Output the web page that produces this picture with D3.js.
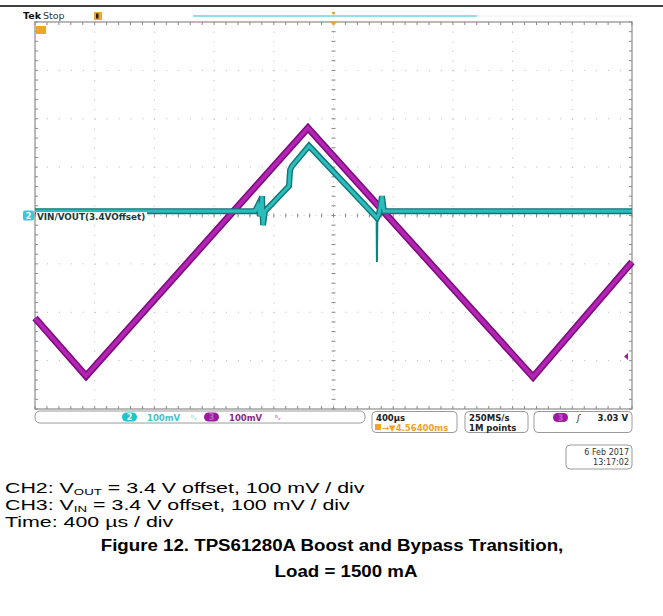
<!DOCTYPE html>
<html>
<head>
<meta charset="utf-8">
<script src="https://cdn.jsdelivr.net/npm/d3@7"></script>
<style>
body{margin:0;background:#fff;}
svg text{font-family:"DejaVu Sans",sans-serif;}
svg text.cap{font-family:"Liberation Sans",Arial,sans-serif;}
</style>
</head>
<body>
<div id="chart"></div>
<script>
// scope capture: time in us (trigger at 0), level in mV around the 3.4 V offset
// CH3 = VIN (magenta)
var ch3Time=[-2000,-1658,-171,1337,2000];
var ch3Level=[-212,-332,181,-334,-96];
// CH2 = VOUT (cyan)
var ch2Time=[-2000,-526,-506,-492,-479,-472,-459,-298,-291,-278,-164,291,305,325,338,2000];
var ch2Level=[9,9,21,-1,40,-20,9,61,94,102,144,-5,3,40,9,9];
// thin glitch at the bypass -> boost transition
var spikeTime=[289,291,294];
var spikeLevel=[-5,-96,0];

var timeDiv=400, levelDiv=100;
var xDivs=[-5,-4,-3,-2,-1,0,1,2,3,4,5];
var yDivs=[-4,-3,-2,-1,0,1,2,3,4];

var statusLabels=["100mV","100mV"];
var horizLabels=["400µs","4.56400ms"];
var acqLabels=["250MS/s","1M points"];
var trigLabel="3.03 V";
var dateLabels=["6 Feb  2017","13:17:02"];

var W=663,H=616;
var svg=d3.select("#chart").append("svg").attr("width",W).attr("height",H);

var x=d3.scaleLinear().domain([-5*timeDiv,5*timeDiv]).range([35,632]);
var y=d3.scaleLinear().domain([-4*levelDiv,4*levelDiv]).range([409,22]);

// page rule at top
svg.append("line").attr("x1",0).attr("x2",W).attr("y1",6).attr("y2",6)
    .attr("stroke","#000").attr("stroke-width",1.5);

// graticule
var grid=svg.append("g");
var minorX=(x(timeDiv)-x(0))/5, minorY=(y(0)-y(levelDiv))/5;
xDivs.slice(1,-1).forEach(function(d){
    if(d===0) return;
    grid.append("line").attr("x1",x(d*timeDiv)).attr("x2",x(d*timeDiv))
        .attr("y1",y(400)).attr("y2",y(-400))
        .attr("stroke","#b8b8b8").attr("stroke-dasharray","1,"+(minorY-1));
});
yDivs.slice(1,-1).forEach(function(d){
    if(d===0) return;
    grid.append("line").attr("x1",x(-2000)).attr("x2",x(2000))
        .attr("y1",y(d*levelDiv)).attr("y2",y(d*levelDiv))
        .attr("stroke","#b8b8b8").attr("stroke-dasharray","1,"+(minorX-1));
});
// center cross with minor ticks
grid.append("line").attr("x1",x(0)).attr("x2",x(0)).attr("y1",y(400)).attr("y2",y(-400))
    .attr("stroke","#c8c8c8").attr("stroke-dasharray","1,"+(minorY/2-1));
grid.append("line").attr("x1",x(-2000)).attr("x2",x(2000)).attr("y1",y(0)).attr("y2",y(0))
    .attr("stroke","#c8c8c8").attr("stroke-dasharray","1,"+(minorX/2-1));
var tX=d3.range(-2000,2001,timeDiv/5), tY=d3.range(-400,401,levelDiv/5);
grid.selectAll(".tx").data(tX).enter().append("line")
    .attr("x1",function(d){return x(d);}).attr("x2",function(d){return x(d);})
    .attr("y1",y(0)-2).attr("y2",y(0)+2).attr("stroke","#888");
grid.selectAll(".ty").data(tY).enter().append("line")
    .attr("y1",function(d){return y(d);}).attr("y2",function(d){return y(d);})
    .attr("x1",x(0)-2).attr("x2",x(0)+2).attr("stroke","#888");
// border ticks
grid.selectAll(".bt").data(tX).enter().append("line")
    .attr("x1",function(d){return x(d);}).attr("x2",function(d){return x(d);})
    .attr("y1",y(400)).attr("y2",y(400)+3).attr("stroke","#888");
grid.selectAll(".bb").data(tX).enter().append("line")
    .attr("x1",function(d){return x(d);}).attr("x2",function(d){return x(d);})
    .attr("y1",y(-400)).attr("y2",y(-400)-3).attr("stroke","#888");
grid.selectAll(".bl").data(tY).enter().append("line")
    .attr("y1",function(d){return y(d);}).attr("y2",function(d){return y(d);})
    .attr("x1",x(-2000)).attr("x2",x(-2000)+3).attr("stroke","#888");
grid.selectAll(".br").data(tY).enter().append("line")
    .attr("y1",function(d){return y(d);}).attr("y2",function(d){return y(d);})
    .attr("x1",x(2000)).attr("x2",x(2000)-3).attr("stroke","#888");
grid.append("rect").attr("x",x(-2000)).attr("y",y(400))
    .attr("width",x(2000)-x(-2000)).attr("height",y(-400)-y(400))
    .attr("fill","none").attr("stroke","#8c8c8c").attr("stroke-width",1.2);

// traces
var line=d3.line().x(function(d){return x(d[0]);}).y(function(d){return y(d[1]);});
var ch3=d3.zip(ch3Time,ch3Level), ch2=d3.zip(ch2Time,ch2Level), spike=d3.zip(spikeTime,spikeLevel);

svg.append("path").attr("d",line(ch3)).attr("fill","none")
    .attr("stroke","#7d0a7d").attr("stroke-width",7).attr("stroke-linejoin","miter");
svg.append("path").attr("d",line(ch3)).attr("fill","none")
    .attr("stroke","#b224b2").attr("stroke-width",4).attr("stroke-linejoin","miter");

svg.append("path").attr("d",line(spike)).attr("fill","none")
    .attr("stroke","#138080").attr("stroke-width",2);
svg.append("path").attr("d",line(ch2)).attr("fill","none")
    .attr("stroke","#0f7676").attr("stroke-width",6).attr("stroke-linejoin","miter");
svg.append("path").attr("d",line(ch2)).attr("fill","none")
    .attr("stroke","#2dbcbc").attr("stroke-width",3.2).attr("stroke-linejoin","miter");

// channel label on the left
svg.append("rect").attr("x",36).attr("y",y(9)+1).attr("width",111).attr("height",8).attr("fill","#fff");
svg.append("rect").attr("x",23).attr("y",y(0)-5).attr("width",11).attr("height",10).attr("rx",2).attr("fill","#3cc8d8");
svg.append("text").attr("x",28.5).attr("y",y(0)+3.5).attr("text-anchor","middle")
    .attr("font-size",8).attr("fill","#fff").attr("font-weight","bold").text("2");
svg.append("text").attr("x",37).attr("y",y(9)+9).attr("font-size",8.8).attr("font-weight","bold")
    .attr("fill","#163c3c").text("VIN/VOUT(3.4VOffset)");

// top status
svg.append("text").attr("x",23).attr("y",19).attr("font-size",9.5).attr("font-weight","bold").attr("fill","#111").text("Tek");
svg.append("text").attr("x",43).attr("y",19).attr("font-size",9.5).attr("fill","#333").text("Stop");
svg.append("rect").attr("x",94).attr("y",12).attr("width",8).attr("height",8).attr("fill","#f0a428");
svg.append("rect").attr("x",96).attr("y",13.5).attr("width",2.5).attr("height",5).attr("fill","#222");
svg.append("rect").attr("x",36).attr("y",26).attr("width",10).attr("height",8).attr("fill","#f0a428");
svg.append("line").attr("x1",193).attr("x2",477).attr("y1",16).attr("y2",16).attr("stroke","#95dbe8").attr("stroke-width",2);
svg.append("line").attr("x1",477).attr("x2",632).attr("y1",16).attr("y2",16).attr("stroke","#eeeeee").attr("stroke-width",1);
svg.append("circle").attr("cx",x(0)).attr("cy",13).attr("r",1.6).attr("fill","#f0a428");
svg.append("path").attr("d","M"+(x(0)-4)+",21L"+(x(0)+4)+",21L"+x(0)+",26Z").attr("fill","#f0a428");
// trigger level marker on the right
svg.append("path").attr("d","M628,353L624,356.5L628,360Z").attr("fill","#a020a0");

// bottom status bar
var bar=svg.append("g");
bar.append("rect").attr("x",35).attr("y",411).attr("width",330).attr("height",12).attr("rx",5)
    .attr("fill","#fff").attr("stroke","#9a9a9a");
bar.append("rect").attr("x",122).attr("y",412.5).attr("width",15).attr("height",9).attr("rx",4.5).attr("fill","#1fc4cc");
bar.append("text").attr("x",129.5).attr("y",420).attr("text-anchor","middle").attr("font-size",8).attr("font-weight","bold").attr("fill","#fff").text("2");
bar.append("text").attr("x",147).attr("y",420.5).attr("font-size",8.5).attr("font-weight","bold").attr("fill","#3cc4cc").text(statusLabels[0]);
bar.append("text").attr("x",191).attr("y",420).attr("font-size",7).attr("fill","#3cc4cc").text("ᵇᵥ");
bar.append("rect").attr("x",204).attr("y",412.5).attr("width",15).attr("height",9).attr("rx",4.5).attr("fill","#9c1aa0");
bar.append("text").attr("x",211.5).attr("y",420).attr("text-anchor","middle").attr("font-size",8).attr("font-weight","bold").attr("fill","#c060c0").text("3");
bar.append("text").attr("x",229).attr("y",420.5).attr("font-size",8.5).attr("font-weight","bold").attr("fill","#8a2a8a").text(statusLabels[1]);
bar.append("text").attr("x",275).attr("y",420).attr("font-size",7).attr("fill","#8a2a8a").text("ᵇᵥ");

bar.append("rect").attr("x",372).attr("y",411.5).attr("width",85).attr("height",21).attr("rx",4)
    .attr("fill","#fff").attr("stroke","#9a9a9a");
bar.append("text").attr("x",376).attr("y",421).attr("font-size",8.5).attr("font-weight","bold").attr("fill","#222").text(horizLabels[0]);
bar.append("rect").attr("x",375).attr("y",424).attr("width",6).attr("height",6).attr("fill","#f0a428");
bar.append("text").attr("x",382).attr("y",430.5).attr("font-size",8.5).attr("font-weight","bold").attr("fill","#f0a428").text("→▼"+horizLabels[1]);

bar.append("rect").attr("x",465).attr("y",411.5).attr("width",63).attr("height",21).attr("rx",4)
    .attr("fill","#fff").attr("stroke","#9a9a9a");
bar.append("text").attr("x",469).attr("y",421).attr("font-size",8.5).attr("font-weight","bold").attr("fill","#222").text(acqLabels[0]);
bar.append("text").attr("x",469).attr("y",430.5).attr("font-size",8.5).attr("font-weight","bold").attr("fill","#222").text(acqLabels[1]);

bar.append("rect").attr("x",534).attr("y",411.5).attr("width",98).attr("height",21).attr("rx",4)
    .attr("fill","#fff").attr("stroke","#9a9a9a");
bar.append("rect").attr("x",553).attr("y",413).attr("width",15).attr("height",9).attr("rx",4.5).attr("fill","#9c1aa0");
bar.append("text").attr("x",560.5).attr("y",420.5).attr("text-anchor","middle").attr("font-size",8).attr("font-weight","bold").attr("fill","#c060c0").text("3");
bar.append("text").attr("x",577).attr("y",421).attr("font-size",9).attr("font-style","italic").attr("fill","#222").text("ʃ");
bar.append("text").attr("x",628).attr("y",421).attr("text-anchor","end").attr("font-size",8.5).attr("font-weight","bold").attr("fill","#222").text(trigLabel);

bar.append("rect").attr("x",566).attr("y",445).attr("width",66).attr("height",24).attr("rx",4)
    .attr("fill","#fff").attr("stroke","#9a9a9a");
bar.append("text").attr("x",629).attr("y",455).attr("text-anchor","end").attr("font-size",8).attr("fill","#333").text(dateLabels[0]);
bar.append("text").attr("x",629).attr("y",465).attr("text-anchor","end").attr("font-size",8).attr("fill","#333").text(dateLabels[1]);

// caption
function capLine(x0,yb,size,sx,bold,parts,anchor){
    var t=svg.append("text").attr("class","cap")
        .attr("transform","translate("+x0+","+yb+") scale("+sx+",1)")
        .attr("font-size",size).attr("fill","#000");
    if(bold) t.attr("font-weight","bold");
    if(anchor) t.attr("text-anchor",anchor);
    parts.forEach(function(p){
        var s=t.append("tspan").text(p.t);
        if(p.sub) s.attr("font-size",size*0.62).attr("dy",2);
        else if(p.back) s.attr("dy",-2);
    });
}
capLine(5,493,15.5,1.38,false,[{t:"CH2: V"},{t:"OUT",sub:true},{t:" = 3.4 V offset, 100 mV / div",back:true}]);
capLine(5,510,15.5,1.38,false,[{t:"CH3: V"},{t:"IN",sub:true},{t:" = 3.4 V offset, 100 mV / div",back:true}]);
capLine(5,527,15.5,1.38,false,[{t:"Time: 400 µs / div"}]);
capLine(332,551,17,1.1,true,[{t:"Figure 12. TPS61280A Boost and Bypass Transition,"}],"middle");
capLine(346,577,17,1.1,true,[{t:"Load = 1500 mA"}],"middle");
</script>
</body>
</html>
